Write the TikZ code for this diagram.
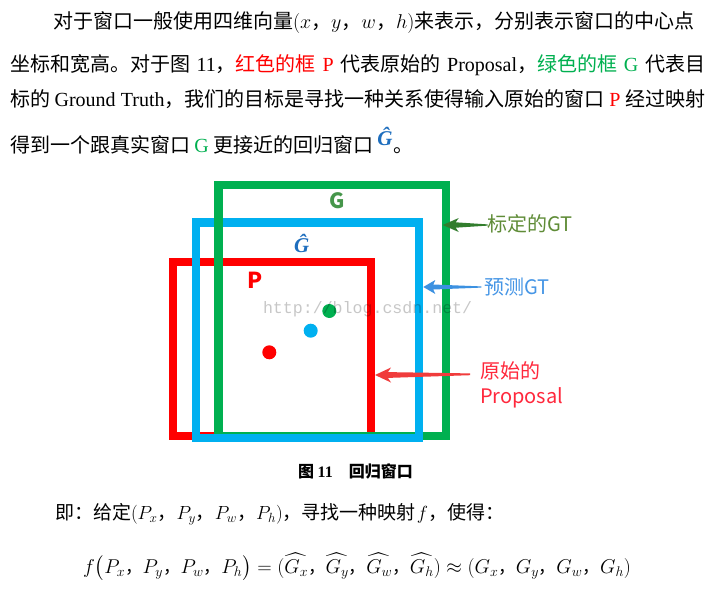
\RequirePackage{fix-cm}
\documentclass[tikz,border=0pt]{standalone}
\usepackage{amsmath}
\usepackage[no-math]{fontspec}
\setmainfont{Noto Sans CJK SC}
\newfontfamily\tnr{Liberation Serif}
\newfontfamily\wmfont{Liberation Mono}
\XeTeXlinebreaklocale "zh"
\XeTeXlinebreakskip=0pt plus 2pt minus 1pt
\newcommand\fc{{\fontsize{17.5}{17.5}\selectfont ，}}
\definecolor{rred}{RGB}{255,0,0}
\definecolor{rgreen}{RGB}{0,176,80}
\definecolor{rblue}{RGB}{0,176,240}
\definecolor{tred}{RGB}{255,0,0}
\definecolor{tgreen}{RGB}{0,176,80}
\definecolor{hatblue}{RGB}{30,110,190}
\definecolor{glab}{RGB}{70,150,75}
\definecolor{arrG}{RGB}{50,125,45}
\definecolor{labG}{RGB}{95,140,55}
\definecolor{arrB}{RGB}{60,145,225}
\definecolor{labB}{RGB}{70,150,230}
\definecolor{arrR}{RGB}{240,60,60}
\definecolor{labR}{RGB}{255,40,60}
\begin{document}
\begin{tikzpicture}[x=1pt,y=-1pt,
  every node/.style={inner sep=0pt,outer sep=0pt},
  body/.style={anchor=base west,font=\fontsize{20}{24}\selectfont},
  lab/.style={anchor=base west,font=\fontsize{20}{24}\selectfont},
  frame/.style={line width=8.3pt,line join=miter},
  dot/.style={circle,minimum size=14pt,inner sep=0pt,draw=none}]
\useasboundingbox[fill=white] (0,0) rectangle (717,592);

% paragraph text
\node[body] (t1) at (53,28) {对于窗口一般使用四维向量$(x$，$y$，$w$，$h)$来表示，分别表示窗口的中心点};
\node[body] (t2) at (10,71) {\hbox to 695pt{坐标和宽高。对于图 {\tnr 11}，{\color{tred}红色的框 {\tnr P}} 代表原始的 {\tnr Proposal}，{\color{tgreen}绿色的框 {\tnr G}} 代表目}};
\node[body] (t3) at (10,106) {\hbox to 695pt{标的 {\tnr Ground Truth}，我们的目标是寻找一种关系使得输入原始的窗口 {\color{tred}\tnr P} 经过映射}};
\node[body] (t4) at (10,152.6) {得到一个跟真实窗口 {\color{tgreen}\tnr G} 更接近的回归窗口\hspace{4pt}\raisebox{7.5pt}{\color{hatblue}\fontsize{21}{21}\selectfont\tnr\bfseries\itshape Ĝ}\hspace{1pt}。};

% frames
\draw[frame,rred] (173,262) rectangle (371,436);
\draw[frame,rblue] (196,222.5) rectangle (419,438);
\draw[frame,rgreen] (218.5,185) rectangle (446,436);
\draw[frame,rblue] (196,425) -- (196,438) -- (419,438) -- (419,425);

% centre dots
\node[dot,fill=rgreen] (cg) at (329.3,311) {};
\node[dot,fill=rblue] (cb) at (310.7,330.7) {};
\node[dot,fill=rred] (cr) at (269.3,352.3) {};

% frame labels
\node[anchor=base,font=\fontsize{21}{21}\selectfont\bfseries,text=glab] (gl) at (337.5,208.3) {G};
\node[anchor=base,font=\fontsize{21}{21}\selectfont\tnr\bfseries\itshape,text=hatblue] (ghl) at (301.7,252.3) {Ĝ};
\node[anchor=base,font=\fontsize{22}{22}\selectfont\bfseries,text=tred] (pl) at (255,288.3) {P};

% side labels
\node[lab,text=labG] (la) at (487,231.6) {标定的GT};
\node[lab,text=labB] (lb) at (484,294) {预测GT};
\node[lab,text=labR] (lc) at (480,378.6) {原始的};
\node[lab,text=labR] (ld) at (480,403.5) {Proposal};

% arrows
\coordinate (ag) at (442.7,225);
\coordinate (ab) at (423.3,287);
\coordinate (ar) at (375,375);
\begin{scope}[shift={(ag)}]
\fill[arrG] (0,0) -- (16,-7) -- (13,-2.7) -- (45,-0.6) -- (45,0.6) -- (13,2.7) -- (16,7) -- cycle;
\end{scope}
\begin{scope}[shift={(ab)}]
\fill[arrB] (0,0) -- (12,-7) -- (10,-2.5) -- (58,-0.6) -- (58,0.6) -- (10,2.5) -- (12,7) -- cycle;
\end{scope}
\begin{scope}[shift={(ar)}]
\fill[arrR] (0,0) -- (16,-7.5) -- (13,-2.9) -- (95,-1.6) -- (95,0.2) -- (13,2.9) -- (16,7.5) -- cycle;
\end{scope}

% watermark
\node[anchor=base west,font=\fontsize{16.6}{18}\selectfont\wmfont,text=black,text opacity=0.22] (wm) at (263,313) {http://blog.csdn.net/};

% caption
\node[anchor=base west,font=\fontsize{16}{18}\selectfont\bfseries] (cap) at (298,477) {图 {\tnr\bfseries 11}\hspace{16pt}回归窗口};

% bottom text
\node[anchor=base west,font=\fontsize{19}{22}\selectfont] (t5) at (55,519.6) {即：给定$(P_x$，$P_y$，$P_w$，$P_h)$，寻找一种映射\hspace{1pt}$f$，使得：};
\node[body] (t6) at (83,573) {$f\bigl(P_x$\fc$P_y$\fc$P_w$\fc$P_h\bigr) = (\widehat{G_x}$\fc$\widehat{G_y}$\fc$\widehat{G_w}$\fc$\widehat{G_h}) \approx (G_x$\fc$G_y$\fc$G_w$\fc$G_h)$};
\end{tikzpicture}
\end{document}
